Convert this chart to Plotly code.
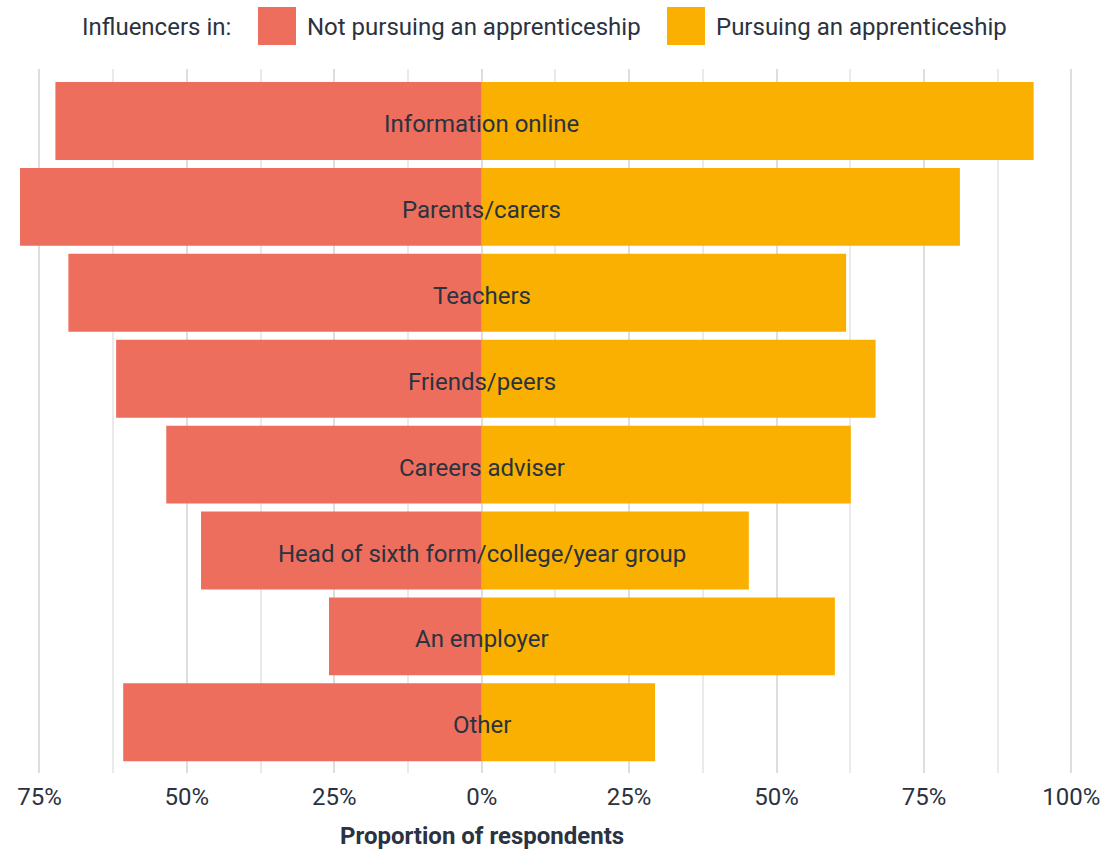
import plotly.graph_objects as go

categories = [
    "Information online",
    "Parents/carers",
    "Teachers",
    "Friends/peers",
    "Careers adviser",
    "Head of sixth form/college/year group",
    "An employer",
    "Other",
]
not_pursuing = [72.3, 78.3, 70.1, 62.0, 53.5, 47.6, 25.9, 60.8]
pursuing = [93.6, 81.1, 61.8, 66.8, 62.6, 45.3, 59.9, 29.4]

tick_vals = [-75, -50, -25, 0, 25, 50, 75, 100]
tick_text = ["75%", "50%", "25%", "0%", "25%", "50%", "75%", "100%"]

series_names = ["Not pursuing an apprenticeship", "Pursuing an apprenticeship"]
legend_title = "Influencers in:"
x_title = "Proportion of respondents"

RED = "#ED6E5C"
YELLOW = "#F9B000"
TEXT = "#2B3240"
FONT = "Roboto"
FS = 24

W, H = 1102, 850
ML, MR, MT, MB = 10, 10, 69, 77
PW = W - ML - MR
PH = H - MT - MB


def px_x(p):
    return (p - ML) / PW


def px_y(p):
    return (H - MB - p) / PH


fig = go.Figure()
fig.add_trace(go.Bar(
    y=categories, x=[-v for v in not_pursuing], orientation="h",
    marker=dict(color=RED, line=dict(width=0)), name=series_names[0],
    showlegend=False, hoverinfo="skip",
))
fig.add_trace(go.Bar(
    y=categories, x=pursuing, orientation="h",
    marker=dict(color=YELLOW, line=dict(width=0)), name=series_names[1],
    showlegend=False, hoverinfo="skip",
))

shapes = []
annotations = []

# Category labels centred on the 0% line
for cat in categories:
    annotations.append(dict(
        x=0, y=cat, xref="x", yref="y", text=cat, showarrow=False,
        xanchor="center", yanchor="middle", yshift=-3,
        font=dict(family=FONT, size=FS, color=TEXT),
    ))

# Manual legend
annotations.append(dict(
    x=px_x(233), y=px_y(27), xref="paper", yref="paper", text=legend_title,
    showarrow=False, xanchor="right", yanchor="middle",
    font=dict(family=FONT, size=FS, color=TEXT),
))
for (x0, tx), col, name in zip([(258, 305), (667, 714)], [RED, YELLOW], series_names):
    shapes.append(dict(
        type="rect", xref="paper", yref="paper",
        x0=px_x(x0), x1=px_x(x0 + 38), y0=px_y(45), y1=px_y(7),
        fillcolor=col, line=dict(width=0),
    ))
    annotations.append(dict(
        x=px_x(tx), y=px_y(27), xref="paper", yref="paper", text=name,
        showarrow=False, xanchor="left", yanchor="middle",
        font=dict(family=FONT, size=FS, color=TEXT),
    ))

annotations.append(dict(
    x=0, xref="x", y=px_y(836), yref="paper", text="<b>" + x_title + "</b>",
    showarrow=False, xanchor="center", yanchor="middle",
    font=dict(family=FONT, size=FS, color=TEXT),
))

fig.update_layout(
    width=W, height=H,
    margin=dict(l=ML, r=MR, t=MT, b=MB, pad=0, autoexpand=False),
    paper_bgcolor="white", plot_bgcolor="white",
    barmode="relative", bargap=0.093,
    font=dict(family=FONT, size=FS, color=TEXT),
    shapes=shapes, annotations=annotations,
    showlegend=False,
)
fig.update_xaxes(
    range=[-80, 103.5], automargin=False,
    tickvals=tick_vals, ticktext=tick_text,
    showgrid=True, gridcolor="#DEDEDE", gridwidth=2,
    zeroline=False, showline=False, ticks="",
    ticklabelstandoff=7,
    tickfont=dict(family=FONT, size=FS, color=TEXT),
    minor=dict(tickmode="linear", tick0=0, dtick=12.5, showgrid=True,
               gridcolor="#EAEAEA", gridwidth=1.5, ticks=""),
    fixedrange=True,
)
fig.update_yaxes(
    range=[7.59, -0.605], automargin=False, showticklabels=False, showgrid=False,
    zeroline=False, showline=False, ticks="", fixedrange=True,
)

fig.write_html(
    "out.html",
    config={"displayModeBar": False},
    post_script="document.body.style.margin='0';document.body.style.overflow='hidden';",
)
